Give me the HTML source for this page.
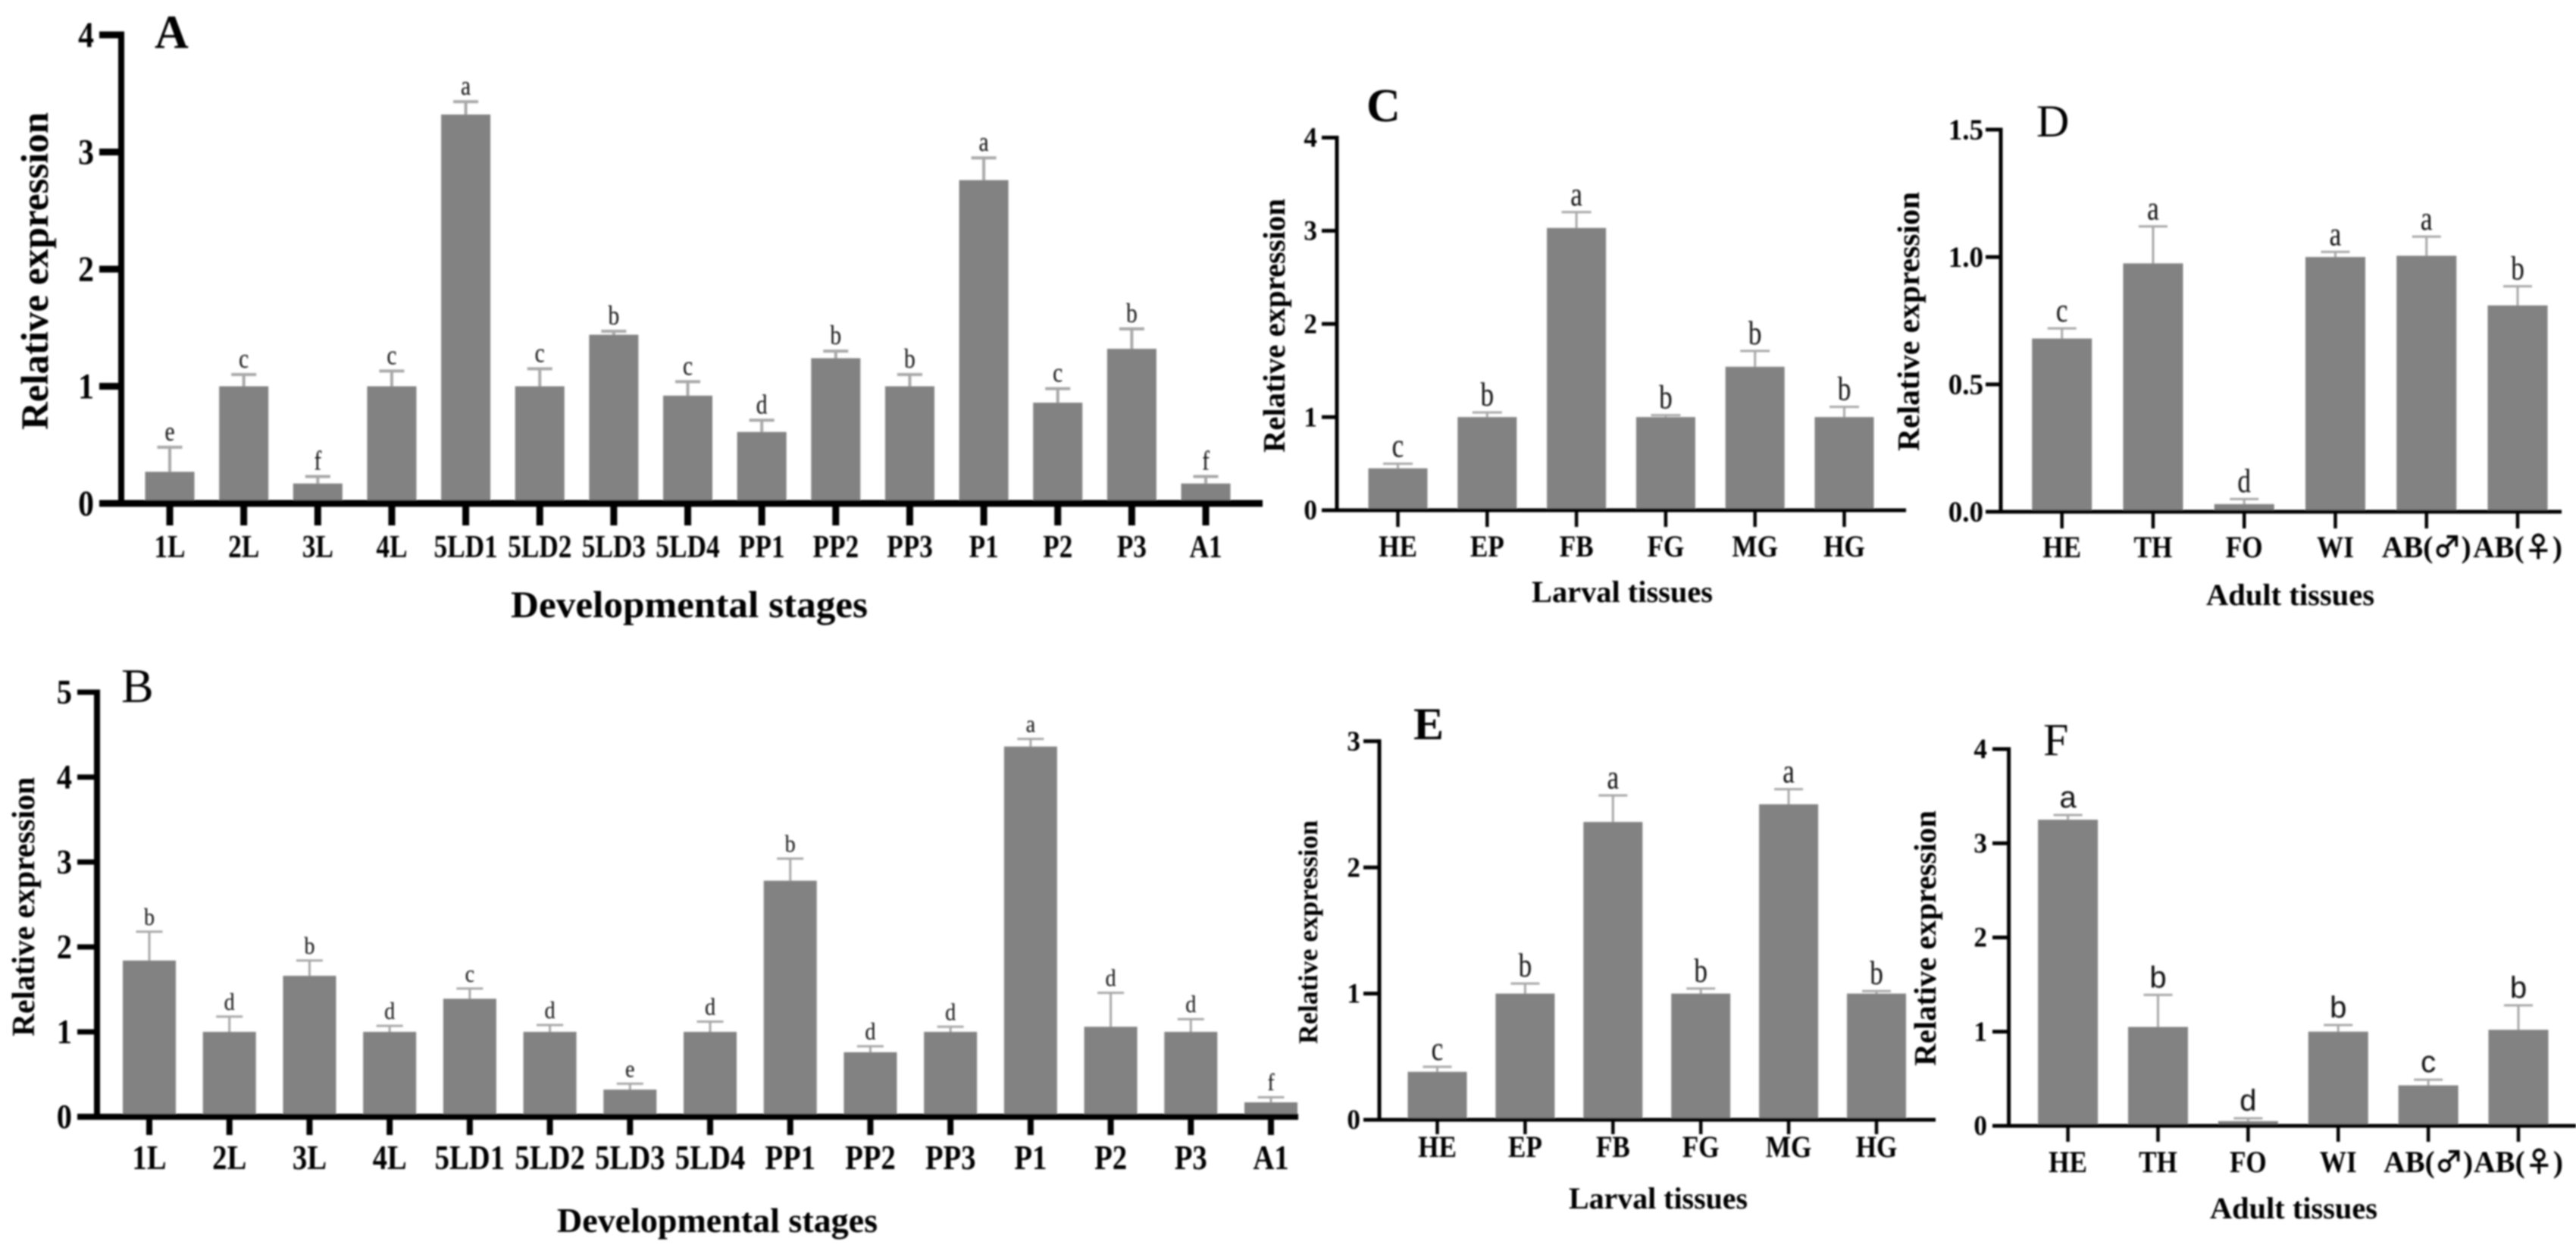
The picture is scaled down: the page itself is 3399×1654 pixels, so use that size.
<!DOCTYPE html>
<html lang="en">
<head>
<meta charset="utf-8">
<title>Relative expression across developmental stages and tissues</title>
<style>
html,body{margin:0;padding:0;background:#fff;}
#figure{display:block;width:3399px;height:1654px;background:#fff;font-family:"Liberation Serif","DejaVu Serif",serif;}
</style>
</head>
<body>
<svg id="figure" xmlns="http://www.w3.org/2000/svg" width="3399" height="1654" viewBox="0 0 3399 1654">
  <defs><filter id="soft" x="-2%" y="-2%" width="104%" height="104%"><feGaussianBlur stdDeviation="1"/></filter></defs>
  <g id="root" filter="url(#soft)"></g>
</svg>
<script>
const stageCatsA = ['1L','2L','3L','4L','5LD1','5LD2','5LD3','5LD4','PP1','PP2','PP3','P1','P2','P3','A1'];
const valuesA = [0.27,1.0,0.17,1.0,3.32,1.0,1.44,0.92,0.61,1.24,1.0,2.76,0.86,1.32,0.17];
const errorsA = [0.21,0.10,0.06,0.13,0.11,0.15,0.03,0.12,0.10,0.06,0.10,0.19,0.12,0.17,0.06];
const lettersA = ['e','c','f','c','a','c','b','c','d','b','b','a','c','b','f'];
const ticksA = [0,1,2,3,4];
const tickLabelsA = ['0','1','2','3','4'];

const stageCatsB = ['1L','2L','3L','4L','5LD1','5LD2','5LD3','5LD4','PP1','PP2','PP3','P1','P2','P3','A1'];
const valuesB = [1.84,1.0,1.66,1.0,1.39,1.0,0.32,1.0,2.78,0.76,1.0,4.36,1.06,1.0,0.17];
const errorsB = [0.34,0.18,0.18,0.07,0.12,0.08,0.07,0.12,0.26,0.07,0.06,0.09,0.40,0.15,0.06];
const lettersB = ['b','d','b','d','c','d','e','d','b','d','d','a','d','d','f'];
const ticksB = [0,1,2,3,4,5];
const tickLabelsB = ['0','1','2','3','4','5'];

const larvalCatsC = ['HE','EP','FB','FG','MG','HG'];
const valuesC = [0.45,1.0,3.03,1.0,1.54,1.0];
const errorsC = [0.05,0.05,0.17,0.02,0.17,0.11];
const lettersC = ['c','b','a','b','b','b'];
const ticksC = [0,1,2,3,4];
const tickLabelsC = ['0','1','2','3','4'];

const adultCatsD = ['HE','TH','FO','WI','AB(♂)','AB(♀)'];
const valuesD = [0.68,0.975,0.03,1.0,1.005,0.81];
const errorsD = [0.04,0.145,0.02,0.02,0.075,0.075];
const lettersD = ['c','a','d','a','a','b'];
const ticksD = [0,0.5,1,1.5];
const tickLabelsD = ['0.0','0.5','1.0','1.5'];

const larvalCatsE = ['HE','EP','FB','FG','MG','HG'];
const valuesE = [0.38,1.0,2.36,1.0,2.5,1.0];
const errorsE = [0.04,0.08,0.21,0.04,0.12,0.02];
const lettersE = ['c','b','a','b','a','b'];
const ticksE = [0,1,2,3];
const tickLabelsE = ['0','1','2','3'];

const adultCatsF = ['HE','TH','FO','WI','AB(♂)','AB(♀)'];
const valuesF = [3.25,1.05,0.05,1.0,0.43,1.02];
const errorsF = [0.05,0.34,0.03,0.07,0.06,0.26];
const lettersF = ['a','b','d','b','c','b'];
const ticksF = [0,1,2,3,4];
const tickLabelsF = ['0','1','2','3','4'];

const NS = 'http://www.w3.org/2000/svg';
const SERIF = '"Liberation Serif","DejaVu Serif",serif';
const SANS = '"Liberation Sans","DejaVu Sans",sans-serif';
const SYMBOL = '"Noto Sans CJK JP","DejaVu Sans",sans-serif';

function mk(parent, tag, props, text) {
  const el = document.createElementNS(NS, tag);
  for (const k in props) el.setAttribute(k, props[k]);
  if (text !== undefined) el.textContent = text;
  parent.appendChild(el);
  return el;
}

function place(x, y, sx) {
  return 'translate(' + x + ' ' + y + ') scale(' + sx + ' 1)';
}

function drawPanel(id, data, box) {
  const root = document.getElementById('root');
  const g = mk(root, 'g', {});
  
  

  const yMax = data.ticks[data.ticks.length - 1];
  const yScale = v => box.y0 - (v / yMax) * (box.y0 - box.yTop);
  const step = (box.xLast - box.xFirst) / (data.cats.length - 1);
  const xScale = i => box.xFirst + i * step;

  data.cats.forEach((cat, i) => {
    const cx = xScale(i);
    const top = yScale(data.values[i]);
    const errTop = yScale(data.values[i] + data.errors[i]);

    const stem = mk(g, 'line', {x1:cx, x2:cx, y1:top, y2:errTop, stroke:'#a8a8a8', 'stroke-width':box.errW});
    
    

    const cap = mk(g, 'line', {x1:cx - box.capW / 2, x2:cx + box.capW / 2, y1:errTop, y2:errTop, stroke:'#a8a8a8', 'stroke-width':box.errW});
    
    

    const bar = mk(g, 'rect', {x:cx - box.barW / 2, y:top, width:box.barW, height:box.y0 - top, fill:'#828282'});
    
    

    const sig = mk(g, 'text', {transform:place(cx, errTop - box.sigGap, box.sigScale), 'text-anchor':'middle', 'font-size':box.sigSize, 'font-family':box.sigFont, fill:'#111'}, data.letters[i]);
    
    

    const tick = mk(g, 'line', {x1:cx, x2:cx, y1:box.y0, y2:box.tickEnd, stroke:'#000', 'stroke-width':box.tickW});
    
    

    const lab = mk(g, 'text', {'text-anchor':'middle', 'font-size':box.xLabelSize, 'font-weight':'bold', fill:'#000'});
    const parts = cat.match(/^(.*\()([♂♀])(\))$/);
    if (parts) {
      lab.setAttribute('transform', place(cx, box.xLabelY, 0.98));
      mk(lab, 'tspan', {}, parts[1]);
      mk(lab, 'tspan', {'font-family':SYMBOL, 'font-size':box.symbolSize}, parts[2]);
      mk(lab, 'tspan', {}, parts[3]);
    } else {
      lab.setAttribute('transform', place(cx, box.xLabelY, box.xLabelScale));
      lab.textContent = cat;
    }
    
    
  });

  data.ticks.forEach((t, i) => {
    const y = yScale(t);
    const tk = mk(g, 'line', {x1:box.xStart, x2:box.axisX, y1:y, y2:y, stroke:'#000', 'stroke-width':box.yTickH});
    
    

    const lb = mk(g, 'text', {transform:place(box.yLabelRight, y + box.yLabelSize * 0.33, box.yLabelScale), 'text-anchor':'end', 'font-size':box.yLabelSize, 'font-weight':'bold', fill:'#000'}, data.tickLabels[i]);
    
    
  });

  const yAxis = mk(g, 'line', {x1:box.axisX, x2:box.axisX, y1:box.yTop - box.yTickH / 2, y2:box.y0, stroke:'#000', 'stroke-width':box.axisW});
  
  

  const xAxis = mk(g, 'line', {x1:box.xStart, x2:box.xEnd, y1:box.y0, y2:box.y0, stroke:'#000', 'stroke-width':box.axisH});
  
  

  const cy = (box.yTitleTop + box.yTitleBottom) / 2;
  const yTitle = mk(g, 'text', {x:box.yTitleX, y:cy, 'text-anchor':'middle', 'font-size':box.yTitleSize, 'font-weight':'bold', fill:'#000',
    transform:'rotate(-90 ' + box.yTitleX + ' ' + cy + ')', textLength:box.yTitleBottom - box.yTitleTop, lengthAdjust:'spacingAndGlyphs'}, 'Relative expression');
  
  

  const xTitle = mk(g, 'text', {x:box.xTitleStart, y:box.xTitleY, 'font-size':box.xTitleSize, 'font-weight':'bold', fill:'#000',
    textLength:box.xTitleLen, lengthAdjust:'spacingAndGlyphs'}, data.xTitle);
  
  

  const pl = mk(g, 'text', {x:box.letterX, y:box.letterY, 'font-size':box.letterSize, 'font-weight':box.letterBold ? 'bold' : 'normal', fill:'#000'}, id);
  
  
}

drawPanel('A',
  {cats:stageCatsA, values:valuesA, errors:errorsA, letters:lettersA, ticks:ticksA, tickLabels:tickLabelsA, xTitle:'Developmental stages'},
  {axisX:160, y0:664, yTop:46, xFirst:224, xLast:1591, xStart:131, xEnd:1666, barW:65, capW:33, errW:4, axisW:8, axisH:9, tickW:9, yTickH:9, tickEnd:693,
   sigGap:9, sigSize:36, sigScale:0.82, sigFont:SERIF, xLabelY:735, xLabelSize:42, xLabelScale:0.84, symbolSize:36, yLabelRight:124, yLabelSize:48, yLabelScale:0.87,
   yTitleX:63, yTitleTop:148, yTitleBottom:567, yTitleSize:51, xTitleStart:674, xTitleY:814, xTitleLen:471, xTitleSize:50,
   letterX:204, letterY:63, letterSize:62, letterBold:true});

drawPanel('B',
  {cats:stageCatsB, values:valuesB, errors:errorsB, letters:lettersB, ticks:ticksB, tickLabels:tickLabelsB, xTitle:'Developmental stages'},
  {axisX:128, y0:1473, yTop:913, xFirst:197, xLast:1677, xStart:102, xEnd:1713, barW:70, capW:35, errW:3, axisW:8, axisH:8, tickW:8, yTickH:7, tickEnd:1497,
   sigGap:9, sigSize:32, sigScale:0.88, sigFont:SERIF, xLabelY:1542, xLabelSize:45, xLabelScale:0.86, symbolSize:36, yLabelRight:95, yLabelSize:46, yLabelScale:0.88,
   yTitleX:45, yTitleTop:1025, yTitleBottom:1367, yTitleSize:42, xTitleStart:735, xTitleY:1625, xTitleLen:423, xTitleSize:46,
   letterX:160, letterY:926, letterSize:64, letterBold:false});

drawPanel('C',
  {cats:larvalCatsC, values:valuesC, errors:errorsC, letters:lettersC, ticks:ticksC, tickLabels:tickLabelsC, xTitle:'Larval tissues'},
  {axisX:1764, y0:673, yTop:181.5, xFirst:1844.5, xLast:2433.5, xStart:1744, xEnd:2515, barW:78, capW:39, errW:3, axisW:5, axisH:5, tickW:4.5, yTickH:5, tickEnd:695,
   sigGap:9, sigSize:44, sigScale:0.8, sigFont:SERIF, xLabelY:734, xLabelSize:40, xLabelScale:0.88, symbolSize:36, yLabelRight:1738, yLabelSize:37, yLabelScale:0.95,
   yTitleX:1695, yTitleTop:262, yTitleBottom:597, yTitleSize:41, xTitleStart:2021, xTitleY:794, xTitleLen:239, xTitleSize:40,
   letterX:1803, letterY:160, letterSize:62, letterBold:true});

drawPanel('D',
  {cats:adultCatsD, values:valuesD, errors:errorsD, letters:lettersD, ticks:ticksD, tickLabels:tickLabelsD, xTitle:'Adult tissues'},
  {axisX:2640, y0:675, yTop:171, xFirst:2720.7, xLast:3322, xStart:2620, xEnd:3380, barW:79, capW:38, errW:3, axisW:5, axisH:5, tickW:4.5, yTickH:5, tickEnd:697,
   sigGap:9, sigSize:44, sigScale:0.8, sigFont:SERIF, xLabelY:735, xLabelSize:40, xLabelScale:0.88, symbolSize:38, yLabelRight:2617, yLabelSize:39, yLabelScale:0.95,
   yTitleX:2532, yTitleTop:253, yTitleBottom:595, yTitleSize:41, xTitleStart:2911, xTitleY:798, xTitleLen:222, xTitleSize:40,
   letterX:2687, letterY:180, letterSize:60, letterBold:false});

drawPanel('E',
  {cats:larvalCatsE, values:valuesE, errors:errorsE, letters:lettersE, ticks:ticksE, tickLabels:tickLabelsE, xTitle:'Larval tissues'},
  {axisX:1820, y0:1477, yTop:977.6, xFirst:1896.5, xLast:2476, xStart:1799, xEnd:2554, barW:78, capW:38, errW:3, axisW:5, axisH:5, tickW:4.5, yTickH:5, tickEnd:1496,
   sigGap:9, sigSize:44, sigScale:0.8, sigFont:SERIF, xLabelY:1526, xLabelSize:40, xLabelScale:0.88, symbolSize:36, yLabelRight:1795, yLabelSize:37, yLabelScale:0.95,
   yTitleX:1738, yTitleTop:1082, yTitleBottom:1377, yTitleSize:36, xTitleStart:2070, xTitleY:1594, xTitleLen:236, xTitleSize:40,
   letterX:1865, letterY:975, letterSize:60, letterBold:true});

drawPanel('F',
  {cats:adultCatsF, values:valuesF, errors:errorsF, letters:lettersF, ticks:ticksF, tickLabels:tickLabelsF, xTitle:'Adult tissues'},
  {axisX:2650.6, y0:1485, yTop:988, xFirst:2728.6, xLast:3323, xStart:2629, xEnd:3399, barW:79, capW:38, errW:3, axisW:5, axisH:5, tickW:4.5, yTickH:5, tickEnd:1506,
   sigGap:10, sigSize:40, sigScale:1, sigFont:SANS, xLabelY:1546, xLabelSize:40, xLabelScale:0.88, symbolSize:38, yLabelRight:2622, yLabelSize:37, yLabelScale:0.95,
   yTitleX:2554, yTitleTop:1069, yTitleBottom:1406, yTitleSize:41, xTitleStart:2916, xTitleY:1607, xTitleLen:221, xTitleSize:40,
   letterX:2696, letterY:996, letterSize:60, letterBold:false});
</script>
</body>
</html>
